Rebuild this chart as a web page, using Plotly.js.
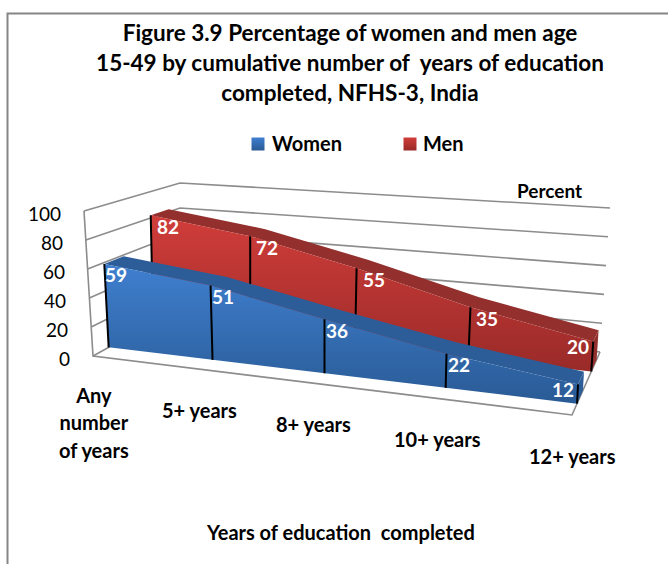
<!DOCTYPE html>
<html><head><meta charset="utf-8">
<script src="https://cdn.plot.ly/plotly-3.0.1.min.js"></script>
<style>html,body{margin:0;padding:0;background:#fff}#c{width:668px;height:564px}</style>
</head><body><div id="c"></div>
<script>
const categories = ['Any<br>number<br>of years', '5+ years', '8+ years', '10+ years', '12+ years'];
const women = [59, 51, 36, 22, 12];
const men = [82, 72, 55, 35, 20];
const valueTicks = [0, 20, 40, 60, 80, 100];

/* 3-D look: box corners on the page and a perspective warp along the category axis */
const floorC = {fl:[93,356], fr:[572,415], bl:[180,308], br:[600,352]};
const topC   = {fl:[84,211], fr:[580,251], bl:[180,183], br:[610,208]};
const K = 0.855;
const warp = u => { const s = u/(categories.length-1); return s*K/(1+s*(K-1)); };
const lerp = (a,b,f) => a+(b-a)*f;
function corner(c,t,d,j){ return lerp(lerp(c.fl[j],c.fr[j],t), lerp(c.bl[j],c.br[j],t), d); }
function P(u,v,d){ const t=warp(u), f=v/100;
  return [lerp(corner(floorC,t,d,0),corner(topC,t,d,0),f), lerp(corner(floorC,t,d,1),corner(topC,t,d,1),f)]; }
function poly(pts){ return {x:pts.map(p=>p?p[0]:null), y:pts.map(p=>p?p[1]:null)}; }
const idx = categories.map((_,i)=>i), last = idx.length-1;

const GRID = '#8c8c8c';
const traces = [];
/* walls */
let g = [];
valueTicks.forEach(v=>{ g.push(P(0,v,0),P(0,v,1),P(last,v,1),null); });
traces.push(Object.assign(poly(g),{mode:'lines',line:{color:GRID,width:1.6},hoverinfo:'skip'}));
let fl = [P(0,100,0),P(0,0,0),P(last,0,0),P(last,0,1)];
traces.push(Object.assign(poly(fl),{mode:'lines',line:{color:GRID,width:1.6},hoverinfo:'skip'}));

function ribbon(name, vals, d0, d1, cTop, cBottom, y0, y1, cRoof){
  const front = idx.map(i=>P(i,vals[i],d0)).concat(idx.slice().reverse().map(i=>P(i,0,d0)));
  const roof = idx.map(i=>P(i,vals[i],d0)).concat(idx.slice().reverse().map(i=>P(i,vals[i],d1)));
  const cap = [P(last,vals[last],d0),P(last,vals[last],d1),P(last,0,d1),P(last,0,d0)];
  const solid = pts => Object.assign(poly(pts.concat([pts[0]])),{mode:'lines',fill:'toself',fillcolor:cRoof,line:{width:0,color:cRoof},hoverinfo:'skip',name:name});
  traces.push(solid(cap)); traces.push(solid(roof));
  traces.push(Object.assign(poly(front.concat([front[0]])),{mode:'lines',name:name,fill:'toself',line:{width:0,color:cTop},
    fillgradient:{type:'vertical',start:y0,stop:y1,colorscale:[[0,cTop],[1,cBottom]]},hoverinfo:'skip'}));
  let drops=[]; idx.forEach(i=>{drops.push(P(i,vals[i],d0),P(i,0,d0),null);});
  traces.push(Object.assign(poly(drops),{mode:'lines',line:{color:'#000',width:2},hoverinfo:'skip'}));
}
ribbon('Men', men, 0.69, 0.88, '#d03d3a', '#982a28', 216, 375, '#93302e');
ribbon('Women', women, 0.18, 0.39, '#3f7fcf', '#295a94', 265, 405, '#2d5d98');

/* legend swatches */
traces.push({x:[258,410],y:[144,144],mode:'markers',hoverinfo:'skip',
  marker:{symbol:'square',size:13,color:['#3f7fcf','#d03d3a'],line:{width:0},gradient:{type:'vertical',color:['#295a94','#982a28']}}});

const ann = [];
const txt = (x,y,text,o)=>ann.push(Object.assign({x,y,text,xref:'x',yref:'y',showarrow:false,xanchor:'center',yanchor:'middle',
  font:{family:'Lato',size:20,color:'#000',weight:700}},o||{}));
valueTicks.forEach(v=>{ const p=P(0,v,0); txt(p[0]-21,p[1]+2,String(v),{xanchor:'right',font:{family:'Lato',size:19,color:'#000',weight:400}}); });
idx.forEach(i=>{ const p=P(i,0,0);
  if(i===0) txt(p[0]+1,p[1]+66,'<span style="font-size:20px">'+categories[i]+'</span>',{font:{family:'Lato',size:21,color:'#000',weight:700}});
  else txt(p[0],p[1]+41,categories[i]);
});
function labels(vals,d,dx){ idx.forEach(i=>{ const p=P(i,vals[i],d);
  txt(p[0]+(i===last?-15:dx),p[1]+(i===last?5:11),String(vals[i]),{font:{family:'Lato',size:19,color:'#fff',weight:700}}); }); }
labels(women,0.18,12); labels(men,0.69,17);
txt(549,190,'Percent',{font:{family:'Lato',size:19,color:'#000',weight:700}});
txt(270,143,'Women',{xanchor:'left'});
txt(421,143,'Men',{xanchor:'left'});
txt(340,532,'Years of education  completed');

const layout = {
  width:668,height:564,margin:{l:0,r:0,t:0,b:0},paper_bgcolor:'#fff',plot_bgcolor:'#fff',showlegend:false,
  title:{text:'<span style="font-size:22.5px">Figure 3.9 Percentage of women and men age<br>15-49 by cumulative number of  years of education<br>completed, NFHS-3, India</span>',
    x:350/668,xanchor:'center',y:1-41/564,yanchor:'top',yref:'container',font:{family:'Lato',size:23,color:'#000',weight:700}},
  xaxis:{range:[0,668],visible:false,fixedrange:true},
  yaxis:{range:[564,0],visible:false,fixedrange:true},
  annotations:ann,
  shapes:[{type:'path',path:'M 7.5 564 L 7.5 13.5 L 668 13.5',xref:'x',yref:'y',line:{color:'#868686',width:2}}]
};
Plotly.newPlot('c',traces,layout,{displayModeBar:false,staticPlot:true});
</script></body></html>
